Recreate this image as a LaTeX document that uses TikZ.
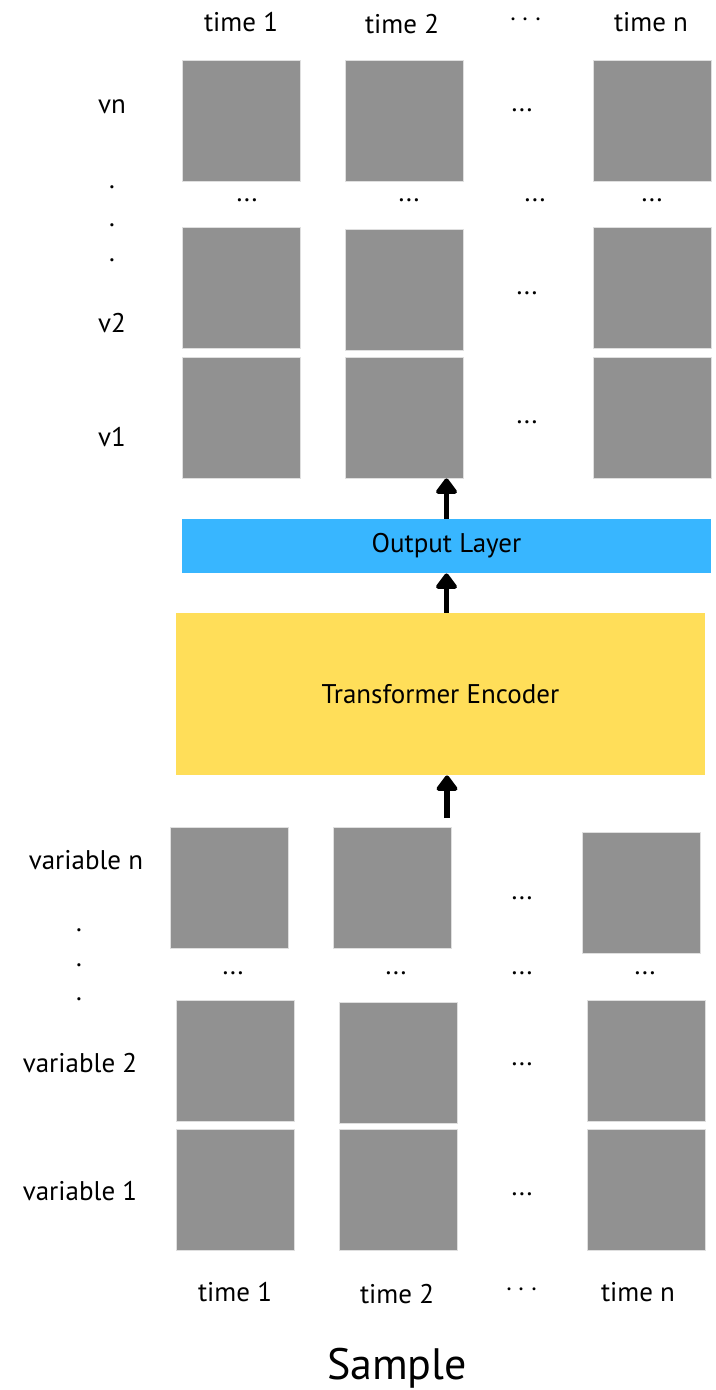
\documentclass[tikz,border=0pt]{standalone}
\usepackage{fontspec}
\setmainfont{PT Sans}
\usepackage{tikz}
\usetikzlibrary{arrows.meta}

\definecolor{cellgray}{HTML}{919191}
\definecolor{outblue}{HTML}{38B6FF}
\definecolor{encyellow}{HTML}{FFDE59}

\tikzset{
    cell/.style={fill=cellgray,draw=gray!25,line width=0.4pt,minimum width=59pt,minimum height=60.5pt,inner sep=0pt},
    lbl/.style={font=\fontsize{13.5}{15}\selectfont,inner sep=0pt},
    upflow/.style={line width=2.6pt,-{Triangle[width=12pt,length=8.5pt,round]}}
}

\begin{document}
\begin{tikzpicture}[x=0.5pt,y=-0.5pt]
                        \useasboundingbox (0,0) rectangle (716,1390);
                        % top: output grid
                        \node[lbl] (t1) at (241,22) {time 1};
                        \node[lbl] (t2) at (402,24) {time 2};
                        \node[lbl] (tdots) at (526,20) {$\cdots$};
                        \node[lbl] (tn) at (651,22) {time n};
                        \node[lbl] (vn) at (112,107) {vn};
                        \node[lbl] (v2) at (112,323) {v2};
                        \node[lbl] (v1) at (112,437) {v1};
                        \node[lbl] (vd1) at (112,187) {.};
                        \node[lbl] (vd2) at (112,225) {.};
                        \node[lbl] (vd3) at (112,260) {.};
                        \node[cell] (on1) at (241,121) {};
                        \node[cell] (on2) at (404,121) {};
                        \node[cell] (onn) at (652,121) {};
                        \node[cell] (ob1) at (241,288) {};
                        \node[cell] (ob2) at (404,289.5) {};
                        \node[cell] (obn) at (652,288) {};
                        \node[cell] (oa1) at (241,417.5) {};
                        \node[cell] (oa2) at (404,417.5) {};
                        \node[cell] (oan) at (652,417.5) {};
                        \node[lbl] (ondots) at (522,110) {...};
                        \node[lbl] (obdots) at (527,293) {...};
                        \node[lbl] (oadots) at (527,422) {...};
                        \node[lbl] (om1) at (247,200) {...};
                        \node[lbl] (om2) at (409,200) {...};
                        \node[lbl] (om3) at (535,200) {...};
                        \node[lbl] (omn) at (652,200) {...};
                        % layers
                        \node[fill=outblue,minimum width=264.5pt,minimum height=27pt,lbl] (out) at (446.5,546) {Output Layer};
                        \node[fill=encyellow,minimum width=264.5pt,minimum height=81pt,lbl] (enc) at (440.5,694) {Transformer Encoder};
                        \coordinate (feed) at (447,818);
                        \draw[upflow] (out.north) -- (out.north |- oa2.south);
                        \draw[upflow] (enc.north -| out) -- (out.south);
                        \draw[upflow] (feed) -- (feed |- enc.south);
                        % bottom: input grid
                        \node[lbl] (xn) at (86,860) {variable n};
                        \node[lbl] (x2) at (80,1063) {variable 2};
                        \node[lbl] (x1) at (80,1191) {variable 1};
                        \node[lbl] (xd1) at (79,930) {.};
                        \node[lbl] (xd2) at (79,965) {.};
                        \node[lbl] (xd3) at (79,999) {.};
                        \node[cell] (in1) at (229,887.5) {};
                        \node[cell] (in2) at (392,887.5) {};
                        \node[cell] (inn) at (641,892.5) {};
                        \node[cell] (ib1) at (235,1060.5) {};
                        \node[cell] (ib2) at (398,1062.5) {};
                        \node[cell] (ibn) at (646,1060.5) {};
                        \node[cell] (ia1) at (235,1190) {};
                        \node[cell] (ia2) at (398,1190) {};
                        \node[cell] (ian) at (646,1190) {};
                        \node[lbl] (indots) at (522,898) {...};
                        \node[lbl] (ibdots) at (522,1064) {...};
                        \node[lbl] (iadots) at (522,1194) {...};
                        \node[lbl] (im1) at (233,973) {...};
                        \node[lbl] (im2) at (396,973) {...};
                        \node[lbl] (im3) at (522,973) {...};
                        \node[lbl] (imn) at (645,973) {...};
                        \node[lbl] (b1) at (235,1292) {time 1};
                        \node[lbl] (b2) at (397,1294) {time 2};
                        \node[lbl] (bdots) at (522,1290) {$\cdots$};
                        \node[lbl] (bn) at (638,1292) {time n};
                        \node[font=\fontsize{22}{24}\selectfont,inner sep=0pt] (smp) at (397,1368) {Sample};
\end{tikzpicture}
\end{document}
